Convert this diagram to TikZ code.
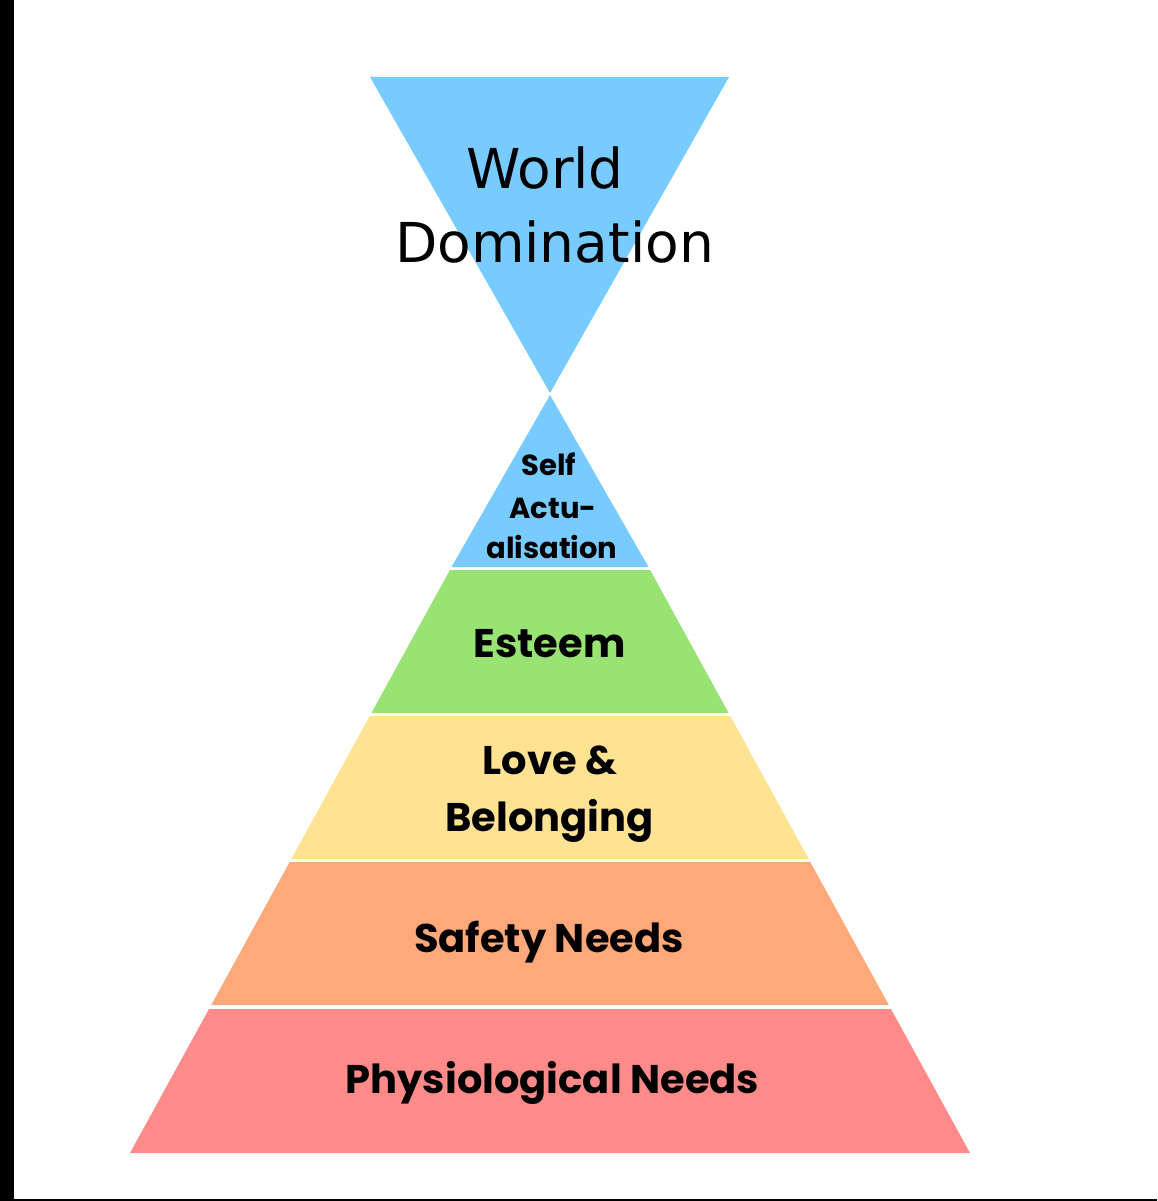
\documentclass[tikz,border=0pt]{standalone}
\usepackage{fontspec}
\newfontfamily\wdfont{DejaVu Sans}
\newfontfamily\labelfont{Poppins}
\definecolor{cblue}{RGB}{119,203,254}
\definecolor{cgreen}{RGB}{152,227,116}
\definecolor{cyellow}{RGB}{255,227,146}
\definecolor{corange}{RGB}{255,169,122}
\definecolor{cred}{RGB}{255,138,138}
\tikzset{
  lbl/.style={inner sep=0pt, anchor=base, font=\labelfont\bfseries\fontsize{40}{45}\selectfont, text=black},
  smalllbl/.style={inner sep=0pt, anchor=base, font=\labelfont\bfseries\fontsize{29}{33}\selectfont, text=black},
  wdlbl/.style={inner sep=0pt, anchor=base, font=\wdfont\fontsize{55}{61}\selectfont, text=black}
}
\begin{document}
\begin{tikzpicture}[x=1pt,y=-1pt]
\useasboundingbox (0,0) rectangle (1157,1201);
\fill[white] (0,0) rectangle (1157,1201);
% frame strips
\fill[black] (0,0) rectangle (14,1201);
\fill[black] (0,1199) rectangle (1157,1201);
% inverted triangle
\fill[cblue] (370,77) -- (729,77) -- (550,393) -- cycle;
\node[wdlbl] (world) at (545,189) {World};
\node[wdlbl] (domination) at (554.5,262) {Domination};
% pyramid layers
\fill[cblue] (550,395) -- (648.5,567) -- (451.5,567) -- cycle;
\fill[cgreen] (449.9,570) -- (650.1,570) -- (728.6,713) -- (371.4,713) -- cycle;
\fill[cyellow] (369.7,716) -- (730.3,716) -- (808.7,859) -- (291.3,859) -- cycle;
\fill[corange] (289.7,862) -- (810.3,862) -- (888.8,1005) -- (211.2,1005) -- cycle;
\fill[cred] (209,1009) -- (891,1009) -- (970,1153) -- (130,1153) -- cycle;
% labels
\node[smalllbl] (self) at (549,475) {Self};
\node[smalllbl] (actu) at (553,518) {Actu-};
\node[smalllbl] (alis) at (552,558) {alisation};
\node[lbl] (esteem) at (549.5,657) {Esteem};
\node[lbl] (love) at (550,774) {Love \&};
\node[lbl] (belong) at (549.5,831) {Belonging};
\node[lbl] (safety) at (549,952) {Safety Needs};
\node[lbl] (physio) at (552.5,1093) {Physiological Needs};
\end{tikzpicture}
\end{document}
